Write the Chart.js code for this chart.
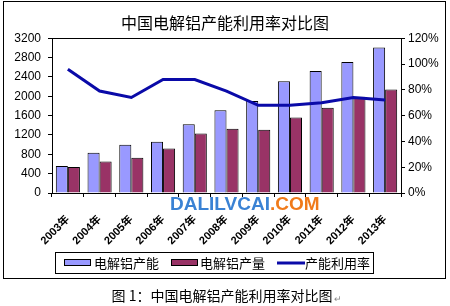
<!DOCTYPE html>
<html>
<head>
<meta charset="utf-8">
<script src="https://cdn.jsdelivr.net/npm/chart.js@4/dist/chart.umd.min.js"></script>
<style>
  html, body { margin: 0; padding: 0; background: #fff; }
  canvas { display: block; }
</style>
</head>
<body>
<canvas id="myChart" width="450" height="306"></canvas>
<script>
const years = ['2003年', '2004年', '2005年', '2006年', '2007年', '2008年', '2009年', '2010年', '2011年', '2012年', '2013年'];
const capacity = [560, 830, 1000, 1060, 1420, 1710, 1900, 2310, 2520, 2710, 3010];
const output = [540, 650, 730, 920, 1230, 1330, 1310, 1560, 1760, 1990, 2140];
const utilization = [96, 79, 74, 88, 88, 79, 68, 68, 70, 74, 72];
const leftTicks = [0, 3200, 400];
const rightTicks = [0, 120, 20];

const FONT = '"Liberation Sans", "Noto Sans CJK SC", sans-serif';
const CJK = '"Noto Sans CJK SC", sans-serif';

// frame, plot border, watermark, legend and caption
const decor = {
    id: 'decor',
    beforeDatasetsDraw(chart) {
        const ctx = chart.ctx;
        const a = chart.chartArea;
        ctx.save();
        ctx.strokeStyle = '#000';
        ctx.lineWidth = 1;
        ctx.strokeRect(Math.round(a.left) + 0.5, Math.round(a.top) + 0.5, Math.round(a.right - a.left), Math.round(a.bottom - a.top));
        ctx.restore();
    },
    afterDraw(chart) {
        const ctx = chart.ctx;
        ctx.save();
        // outer frame
        ctx.strokeStyle = '#000';
        ctx.lineWidth = 1;
        ctx.strokeRect(3.5, 1.5, 442, 277);

        // watermark
        ctx.font = 'bold 19px "Liberation Sans", sans-serif';
        ctx.textBaseline = 'middle';
        ctx.textAlign = 'left';
        ctx.fillStyle = '#3a82d4';
        ctx.fillText('DALILVCAI', 170, 205);
        const w = ctx.measureText('DALILVCAI').width;
        ctx.fillStyle = '#f07a1a';
        ctx.fillText('.COM', 170 + w, 205);

        // legend
        ctx.strokeRect(55.5, 252.5, 318, 21);
        ctx.font = '13px ' + CJK;
        ctx.fillStyle = '#9999ff';
        ctx.fillRect(64, 260, 26, 6);
        ctx.strokeRect(64.5, 259.5, 26, 6);
        ctx.fillStyle = '#993366';
        ctx.fillRect(171, 260, 26, 6);
        ctx.strokeRect(171.5, 259.5, 26, 6);
        ctx.strokeStyle = '#0a0aa8';
        ctx.lineWidth = 3;
        ctx.beginPath();
        ctx.moveTo(277, 263);
        ctx.lineTo(305, 263);
        ctx.stroke();
        ctx.fillStyle = '#000';
        ctx.fillText('电解铝产能', 94, 263);
        ctx.fillText('电解铝产量', 200, 263);
        ctx.fillText('产能利用率', 305, 263);

        // caption
        ctx.font = '14px ' + CJK;
        ctx.textAlign = 'center';
        ctx.fillText('图 1：中国电解铝产能利用率对比图', 222, 296);
        ctx.font = '9px ' + CJK;
        ctx.fillStyle = '#888';
        ctx.fillText('↵', 338, 299);
        ctx.restore();
    }
};

const data = {
    labels: years,
    datasets: [{
        type: 'line',
        label: '产能利用率',
        data: utilization,
        yAxisID: 'y1',
        borderColor: '#0a0aa8',
        borderWidth: 3,
        pointRadius: 0,
        tension: 0,
        order: 0,
    }, {
        label: '电解铝产能',
        data: capacity,
        backgroundColor: '#9999ff',
        borderColor: '#000',
        borderWidth: 1,
        yAxisID: 'y',
        order: 1,
    }, {
        label: '电解铝产量',
        data: output,
        backgroundColor: '#993366',
        borderColor: '#000',
        borderWidth: 1,
        yAxisID: 'y',
        order: 1,
    }],
};

const config = {
    type: 'bar',
    data: data,
    options: {
        responsive: false,
        animation: false,
        devicePixelRatio: 1,
        categoryPercentage: 0.76,
        barPercentage: 1.0,
        layout: { padding: { top: 6, left: 4, right: 4, bottom: 61 } },
        plugins: {
            legend: { display: false },
            tooltip: { enabled: false },
            title: {
                display: true,
                text: '中国电解铝产能利用率对比图',
                color: '#000',
                font: { family: CJK, size: 16, weight: 'normal' },
                padding: { top: 7, bottom: 6 },
            },
        },
        scales: {
            x: {
                afterFit: function (scale) { scale.height = 52; },
                grid: { drawOnChartArea: false, tickLength: 4, color: '#000' },
                border: { color: '#000' },
                ticks: {
                    color: '#000',
                    font: { family: FONT, size: 11, weight: 'bold' },
                    minRotation: 45,
                    maxRotation: 45,
                    padding: 16,
                    autoSkip: false,
                },
            },
            y: {
                position: 'left',
                min: leftTicks[0],
                max: leftTicks[1],
                afterFit: function (scale) { scale.width = 48; },
                grid: { drawOnChartArea: false, tickLength: 4, color: '#000' },
                border: { color: '#000' },
                ticks: {
                    stepSize: leftTicks[2],
                    color: '#000',
                    font: { family: FONT, size: 12 },
                    padding: 7,
                    callback: function (v) { return String(v); },
                },
            },
            y1: {
                position: 'right',
                min: rightTicks[0],
                max: rightTicks[1],
                afterFit: function (scale) { scale.width = 45; },
                grid: { drawOnChartArea: false, tickLength: 4, color: '#000' },
                border: { color: '#000' },
                ticks: {
                    stepSize: rightTicks[2],
                    color: '#000',
                    font: { family: FONT, size: 12 },
                    padding: 3,
                    callback: function (v) { return v + '%'; },
                },
            },
        },
    },
    plugins: [decor],
};

const ctx = document.getElementById('myChart').getContext('2d');
const myChart = new Chart(ctx, config);
</script>
</body>
</html>
